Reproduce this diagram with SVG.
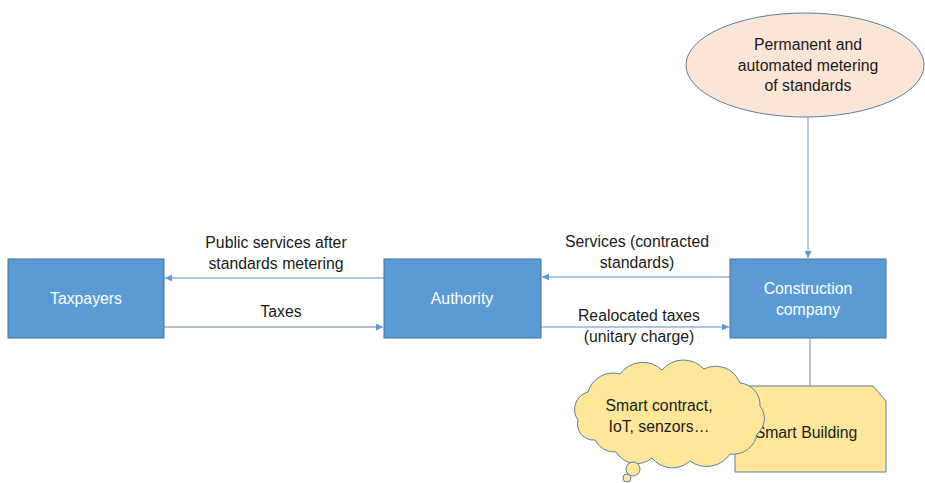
<svg xmlns="http://www.w3.org/2000/svg" width="925" height="483" viewBox="0 0 925 483">
<style>
text{font-family:"Liberation Sans",Arial,sans-serif;font-size:15.8px;fill:#1a1a1a;text-anchor:middle}
.box{fill:#5B9BD5;stroke:#41719C;stroke-width:1}
.wt{fill:#ffffff}
.ln{stroke:#8FB4DC;stroke-width:1.3;fill:none}
.gy{stroke:#98A8BC}
</style>
<defs>
<marker id="ah" viewBox="0 0 10 10" refX="10" refY="5" markerWidth="7" markerHeight="7" orient="auto" markerUnits="userSpaceOnUse">
<path d="M0,0 L10,5 L0,10 z" fill="#5B9BD5"/>
</marker>
</defs>
<g id="connectors">
<line class="ln" x1="808" y1="117" x2="808" y2="258" marker-end="url(#ah)"/>
<line class="ln" x1="384" y1="278" x2="165" y2="278" marker-end="url(#ah)"/>
<line class="ln gy" x1="164" y1="327" x2="383" y2="327" marker-end="url(#ah)"/>
<line class="ln" x1="730" y1="277" x2="542" y2="277" marker-end="url(#ah)"/>
<line class="ln" x1="541" y1="327" x2="729" y2="327" marker-end="url(#ah)"/>
<line class="ln gy" x1="810" y1="338" x2="810" y2="386"/>
</g>
<g id="metering">
<ellipse cx="805" cy="65" rx="119" ry="52" fill="#FBE5D6" stroke="#5A7FA8" stroke-width="1"/>
<text x="808" y="50">Permanent and</text>
<text x="808" y="71">automated metering</text>
<text x="808" y="91">of standards</text>
</g>
<g id="taxpayers">
<rect class="box" x="8" y="259" width="156" height="79"/>
<text class="wt" x="86" y="304">Taxpayers</text>
</g>
<g id="authority">
<rect class="box" x="384" y="259" width="157" height="79"/>
<text class="wt" x="462" y="304">Authority</text>
</g>
<g id="construction">
<rect class="box" x="730" y="259" width="156" height="79"/>
<text class="wt" x="808" y="294">Construction</text>
<text class="wt" x="808" y="315">company</text>
</g>
<g id="labels">
<text x="276" y="248">Public services after</text>
<text x="276" y="269">standards metering</text>
<text x="281" y="317">Taxes</text>
<text x="637" y="247">Services (contracted</text>
<text x="637" y="268">standards)</text>
<text x="639" y="321">Realocated taxes</text>
<text x="639" y="342">(unitary charge)</text>
</g>
<g id="smart-building">
<path d="M735,386 L873,386 L886,401 L886,472 L735,472 Z" fill="#FFE699" stroke="#5A7FA8" stroke-width="1"/>
<text x="806" y="438">Smart Building</text>
</g>
<g id="cloud">
<path d="M578,420 A18,18 0 0 1 588,392 A26,26 0 0 1 620,374 A28,28 0 0 1 662,370 A28,28 0 0 1 704,369 A26,26 0 0 1 740,383 A22,22 0 0 1 760,406 A20,20 0 0 1 757,434 A24,24 0 0 1 730,454 A28,28 0 0 1 690,461 A26,26 0 0 1 652,458 A24,24 0 0 1 616,452 A22,22 0 0 1 595,440 A16,16 0 0 1 578,420 Z" fill="#FFE699" stroke="#5A7FA8" stroke-width="1"/>
<circle cx="633" cy="469" r="7" fill="#FFE699" stroke="#5A7FA8" stroke-width="1"/>
<circle cx="627" cy="478" r="4" fill="#FFE699" stroke="#5A7FA8" stroke-width="1"/>
<text x="659" y="411">Smart contract,</text>
<text x="659" y="432">IoT, senzors…</text>
</g>
</svg>
